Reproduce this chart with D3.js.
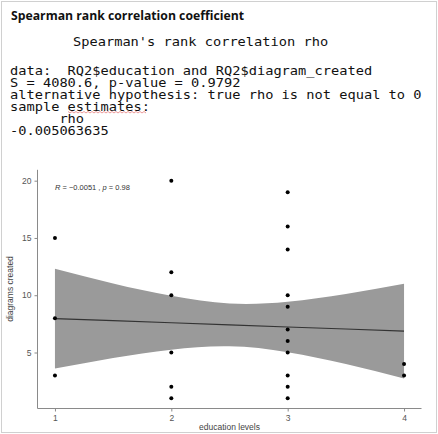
<!DOCTYPE html>
<html lang="en">
<head>
<meta charset="utf-8">
<title>Spearman rank correlation</title>
<script src="https://cdn.jsdelivr.net/npm/d3@7"></script>
<style>
  body { margin: 0; background: #fff; }
  svg { display: block; }
</style>
</head>
<body>
<script>
// console output lines
var consoleLines = [
  "data:  RQ2$education and RQ2$diagram_created",
  "S = 4080.6, p-value = 0.9792",
  "alternative hypothesis: true rho is not equal to 0",
  "sample estimates:",
  "      rho ",
  "-0.005063635"
];

// points: education level and diagrams created
var eduLevel = [1, 1, 1, 2, 2, 2, 2, 2, 2, 3, 3, 3, 3, 3, 3, 3, 3, 3, 3, 3, 4, 4];
var diagrams = [15, 8, 3, 20, 12, 10, 5, 2, 1, 19, 16, 14, 10, 9, 7, 6, 5, 3, 2, 1, 4, 3];

// lm fit and 95% band
var bandX = [1, 1.5, 2, 2.5, 3, 3.5, 4];
var fitY = [7.96, 7.78, 7.60, 7.41, 7.23, 7.05, 6.87];
var upperY = [12.32, 11.03, 9.95, 9.28, 9.43, 10.10, 11.00];
var lowerY = [3.60, 4.53, 5.25, 5.54, 5.03, 4.00, 2.74];

var xTicks = [1, 2, 3, 4];
var yTicks = [5, 10, 15, 20];

var w = 438, h = 434;
var svg = d3.select("body").append("svg").attr("width", w).attr("height", h);

// light frame around the screenshot
svg.append("rect").attr("x", 1.5).attr("y", 1.5).attr("width", w - 3).attr("height", h - 3)
  .attr("fill", "none").attr("stroke", "#d0d0d0");

svg.append("text").attr("x", 11).attr("y", 20)
  .attr("font-family", "Open Sans, sans-serif").attr("font-weight", "bold")
  .attr("font-size", 12.5).attr("textLength", 233).attr("lengthAdjust", "spacingAndGlyphs")
  .attr("fill", "#111").text("Spearman rank correlation coefficient");

// R console text: monospace, stretched a bit wider than tall
var mono = "DejaVu Sans Mono, monospace";
var con = svg.append("g").attr("transform", "translate(10,0) scale(1.14,1)");

con.append("text").attr("x", 63 / 1.14).attr("y", 46)
  .attr("font-family", mono).attr("font-size", 12).attr("fill", "#111")
  .text("Spearman's rank correlation rho");

con.selectAll("text.con").data(consoleLines).enter().append("text")
  .attr("class", "con")
  .attr("x", 0)
  .attr("y", function(d, i) { return 75 + i * 12; })
  .attr("font-family", mono).attr("font-size", 12).attr("fill", "#111")
  .attr("xml:space", "preserve")
  .style("white-space", "pre")
  .text(function(d) { return d; });

// spell-check squiggle under "estimates"
var sq = [];
for (var i = 0; i <= 39; i++) sq.push([68 + i * 2, 112 + (i % 2 ? 1 : -0.5)]);
svg.append("path").attr("d", d3.line()(sq)).attr("fill", "none")
  .attr("stroke", "#e06060").attr("stroke-width", 0.8).attr("opacity", 0.8);

// plot
var xScale = d3.scaleLinear().domain([0.85, 4.15]).range([37.5, 421.5]);
var yScale = d3.scaleLinear().domain([0.05, 20.95]).range([409.2, 169.8]);

var area = d3.area()
  .x(function(d, i) { return xScale(bandX[i]); })
  .y0(function(d, i) { return yScale(lowerY[i]); })
  .y1(function(d, i) { return yScale(upperY[i]); })
  .curve(d3.curveNatural);

svg.append("path").datum(bandX).attr("d", area).attr("fill", "#9a9a9a");

svg.append("path").datum(bandX)
  .attr("d", d3.line()
    .x(function(d, i) { return xScale(bandX[i]); })
    .y(function(d, i) { return yScale(fitY[i]); }))
  .attr("fill", "none").attr("stroke", "#333").attr("stroke-width", 1.1);

svg.selectAll("circle").data(eduLevel).enter().append("circle")
  .attr("cx", function(d) { return xScale(d); })
  .attr("cy", function(d, i) { return yScale(diagrams[i]); })
  .attr("r", 2)
  .attr("fill", "#000");

var xAxis = d3.axisBottom(xScale).tickValues(xTicks).tickFormat(d3.format("d")).tickSize(3).tickSizeOuter(0);
var gx = svg.append("g").attr("transform", "translate(0,408.5)").call(xAxis);

var yAxis = d3.axisLeft(yScale).tickValues(yTicks).tickFormat(d3.format("d")).tickSize(3).tickSizeOuter(0);
var gy = svg.append("g").attr("transform", "translate(37.5,0)").call(yAxis);

[gx, gy].forEach(function(g) {
  g.select(".domain").attr("stroke", "#8a8a8a");
  g.selectAll(".tick line").attr("stroke", "#8a8a8a");
  g.selectAll(".tick text").attr("fill", "#555").attr("font-size", 8.5)
    .attr("font-family", "Liberation Sans, Arial, sans-serif");
});
gx.select(".domain").attr("d", "M37.5,0H421.5");
gy.select(".domain").attr("d", "M0,169.8V408.5");

svg.append("text").attr("x", 229.5).attr("y", 430)
  .attr("text-anchor", "middle").attr("font-family", "Liberation Sans, Arial, sans-serif")
  .attr("font-size", 8.5).attr("fill", "#444").text("education levels");

svg.append("text").attr("transform", "translate(13,289) rotate(-90)")
  .attr("text-anchor", "middle").attr("font-family", "Liberation Sans, Arial, sans-serif")
  .attr("font-size", 8.5).attr("fill", "#444").text("diagrams created");

var ann = svg.append("text").attr("x", 55).attr("y", 190)
  .attr("font-family", "Liberation Sans, Arial, sans-serif").attr("font-size", 7.5).attr("fill", "#333");
ann.append("tspan").attr("font-style", "italic").text("R");
ann.append("tspan").text(" = \u22120.0051 , ");
ann.append("tspan").attr("font-style", "italic").text("p");
ann.append("tspan").text(" = 0.98");
</script>
</body>
</html>
